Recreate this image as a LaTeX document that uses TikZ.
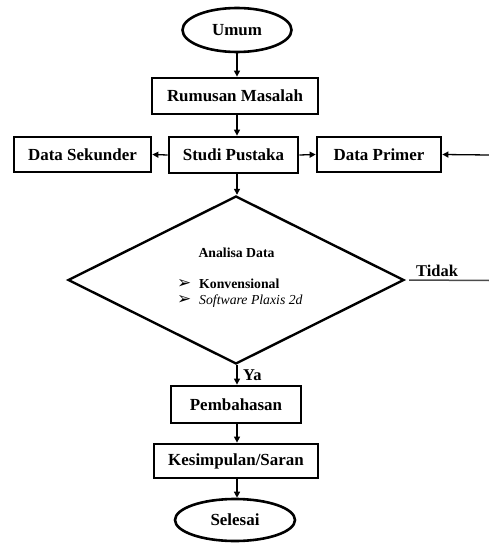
\documentclass[tikz,border=0pt]{standalone}
\usepackage{fontspec}
\setmainfont{Liberation Serif}
\newfontfamily\dejavu{DejaVu Sans}
\usetikzlibrary{shapes.geometric,arrows.meta}
\begin{document}
\begin{tikzpicture}[x=1bp,y=-1bp,
  boxnode/.style={draw,line width=2.8bp,rectangle,inner sep=0pt,font=\fontsize{17}{20}\selectfont\bfseries},
  termnode/.style={draw,line width=2.6bp,ellipse,inner sep=0pt,font=\fontsize{17}{20}\selectfont\bfseries},
  conn/.style={line width=1.3bp,-{Triangle[length=6bp,width=6bp]}},
  lbl/.style={font=\fontsize{16.5}{20}\selectfont\bfseries,inner sep=0pt},
  bullet/.style={font=\fontsize{17}{18}\selectfont\dejavu,inner sep=0pt,text height=10bp,text depth=0bp,anchor=base west}]
\useasboundingbox (0,0) rectangle (489,544);
\node[termnode,minimum width=109bp,minimum height=44bp] (umum) at (237,30) {Umum};
\node[boxnode,minimum width=166bp,minimum height=36bp] (rum) at (235,96) {Rumusan Masalah};
\node[boxnode,minimum width=129bp,minimum height=36bp] (studi) at (233.5,155) {Studi Pustaka};
\node[boxnode,minimum width=137bp,minimum height=35bp] (sek) at (82.5,154.5) {Data Sekunder};
\node[boxnode,minimum width=124bp,minimum height=35bp] (prim) at (379,154.5) {Data Primer};
\node[draw,line width=2.4bp,diamond,aspect=1.99,minimum width=336bp,minimum height=168bp,inner sep=0pt] (ana) at (236,280) {};
\node[font=\fontsize{13.8}{16}\selectfont\bfseries,inner sep=0pt] (anat) at (236.5,253) {Analisa Data};
\node[bullet] (b1) at (177,288) {➢};
\node[bullet] (b2) at (177,304) {➢};
\node[font=\fontsize{13.8}{16}\selectfont\bfseries,inner sep=0pt,anchor=base west] (k1) at (199,288) {Konvensional};
\node[font=\fontsize{13.8}{16}\selectfont\itshape,inner sep=0pt,anchor=base west] (k2) at (199,304) {Software Plaxis 2d};
\node[boxnode,minimum width=130bp,minimum height=37bp] (pemb) at (236,404.5) {Pembahasan};
\node[boxnode,minimum width=164bp,minimum height=34bp] (kes) at (236,461) {Kesimpulan/Saran};
\node[termnode,minimum width=120bp,minimum height=42bp] (sel) at (235,520) {Selesai};
\coordinate (ax) at (237,0);
\coordinate (rin) at (489,155);
\coordinate (rout) at (489,280.5);
\node[lbl,anchor=base west] (tidak) at (416,276) {Tidak};
\node[lbl,anchor=base west] (ya) at (243,380) {Ya};
\draw[conn] (umum.south -| ax) -- (rum.north -| ax);
\draw[conn] (rum.south -| ax) -- (studi.north -| ax);
\draw[conn] (studi.west) -- (sek.east);
\draw[conn] (studi.east) -- (prim.west);
\draw[conn] (rin) -- (prim.east);
\draw[conn] (studi.south -| ax) -- (ana.north -| ax);
\draw[conn] (ana.south -| ax) -- (pemb.north -| ax);
\draw[conn] (pemb.south -| ax) -- (kes.north -| ax);
\draw[conn] (kes.south -| ax) -- (sel.north -| ax);
\draw[line width=1.5bp,black!70] ([xshift=4bp]ana.east) -- (rout);
\end{tikzpicture}
\end{document}
